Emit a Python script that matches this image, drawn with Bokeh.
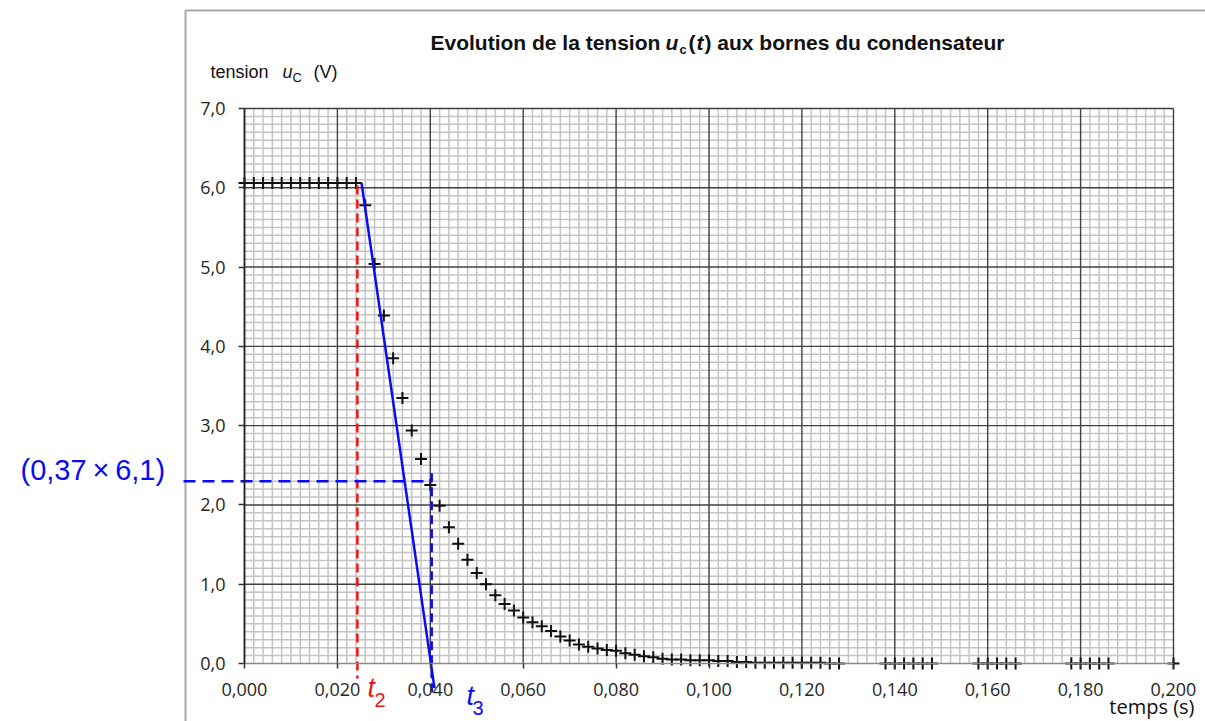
from bokeh.plotting import figure
from bokeh.models import (SingleIntervalTicker, CustomJSTickFormatter, Label,
                          LinearAxis, Range1d, ColumnDataSource)
from bokeh.embed import file_html
from bokeh.resources import INLINE

# ---------------- data ----------------
t_flat = [0.000, 0.002, 0.004, 0.006, 0.008, 0.010, 0.012, 0.014, 0.016, 0.018,
          0.020, 0.022, 0.024]
u_flat = [6.06, 6.06, 6.06, 6.06, 6.06, 6.06, 6.06, 6.06, 6.06, 6.06,
          6.06, 6.06, 6.06]

t_decay = [0.026, 0.028, 0.030, 0.032, 0.034, 0.036, 0.038, 0.040, 0.042, 0.044,
           0.046, 0.048, 0.050, 0.052, 0.054, 0.056, 0.058, 0.060, 0.062, 0.064,
           0.066, 0.068, 0.070, 0.072, 0.074, 0.076, 0.078, 0.080, 0.082, 0.084,
           0.086, 0.088, 0.090, 0.092, 0.094, 0.096, 0.098, 0.100, 0.102, 0.104,
           0.106, 0.108, 0.110, 0.112, 0.114, 0.116, 0.118, 0.120, 0.122, 0.124,
           0.126, 0.128]
u_decay = [5.78, 5.04, 4.39, 3.85, 3.35, 2.94, 2.58, 2.25, 1.99, 1.72,
           1.51, 1.31, 1.14, 1.00, 0.86, 0.75, 0.67, 0.58, 0.52, 0.47,
           0.41, 0.34, 0.29, 0.24, 0.21, 0.19, 0.17, 0.16, 0.13, 0.11,
           0.09, 0.08, 0.06, 0.05, 0.05, 0.04, 0.04, 0.04, 0.03, 0.03,
           0.02, 0.02, 0.01, 0.01, 0.01, 0.01, 0.01, 0.01, 0.01, 0.01,
           0.00, 0.00]

t_tail = [0.138, 0.140, 0.142, 0.144, 0.146, 0.148,
          0.158, 0.160, 0.162, 0.164, 0.166,
          0.178, 0.180, 0.182, 0.184, 0.186,
          0.200]
u_tail = [0.0, 0.0, 0.0, 0.0, 0.0, 0.0,
          0.0, 0.0, 0.0, 0.0, 0.0,
          0.0, 0.0, 0.0, 0.0, 0.0,
          0.0]

# construction lines
tangent_t = [0.0252, 0.0409]
tangent_u = [6.06, -0.31]
t2_t = [0.0243, 0.0243]
t2_u = [6.03, -0.19]
t3_t = [0.0403, 0.0403]
t3_u = [2.40, -0.40]
u_tau = 2.30  # 0,37 x 6,1

T_MAX, U_MAX = 0.2, 7.0
x_major, y_major = 0.02, 1.0
x_minor, y_minor = 0.002, 0.1

# ---------------- layout helpers (screen pixel -> data) ----------------
FX0, FX1 = 244, 1173   # pixels of t = 0 and t = 0.200
FY0, FY1 = 663, 108    # pixels of u = 0 and u = 7.0
W, H = 1205, 721


def X(px):
    return (px - FX0) / (FX1 - FX0) * T_MAX


def Y(py):
    return (FY0 - py) / (FY0 - FY1) * U_MAX


p = figure(width=W, height=H, min_border=0,
           x_range=Range1d(X(0), X(W)), y_range=Range1d(Y(H), Y(0)),
           x_axis_type=None, y_axis_type=None,
           output_backend="svg", toolbar_location=None)
p.background_fill_color = "white"
p.border_fill_color = "white"
p.outline_line_color = None

# ---------------- grid (minor then major) ----------------
nx = int(round(T_MAX / x_minor))
ny = int(round(U_MAX / y_minor))
gx = [i * x_minor for i in range(nx + 1)]
gy = [j * y_minor for j in range(ny + 1)]
minx = [v for i, v in enumerate(gx) if i % 10]
majx = [v for i, v in enumerate(gx) if i % 10 == 0]
miny = [v for j, v in enumerate(gy) if j % 10]
majy = [v for j, v in enumerate(gy) if j % 10 == 0]

p.segment(x0=minx, y0=[0] * len(minx), x1=minx, y1=[U_MAX] * len(minx),
          line_color="#c4c4c4", line_width=1.5)
p.segment(x0=[0] * len(miny), y0=miny, x1=[T_MAX] * len(miny), y1=miny,
          line_color="#c4c4c4", line_width=1.5)
p.segment(x0=majx, y0=[0] * len(majx), x1=majx, y1=[U_MAX] * len(majx),
          line_color="#404040", line_width=1.4)
p.segment(x0=[0] * len(majy[1:]), y0=majy[1:], x1=[T_MAX] * len(majy[1:]), y1=majy[1:],
          line_color="#404040", line_width=1.4)

# ---------------- axes (fixed at t = 0 and u = 0) ----------------
xt = SingleIntervalTicker(interval=x_major, num_minor_ticks=0)
yt = SingleIntervalTicker(interval=y_major, num_minor_ticks=0)
xaxis = LinearAxis(fixed_location=0, bounds=(0, T_MAX + 1e-6), ticker=xt,
                   formatter=CustomJSTickFormatter(code="return tick.toFixed(3).replace('.', ',');"))
yaxis = LinearAxis(fixed_location=0, bounds=(0, U_MAX), ticker=yt,
                   formatter=CustomJSTickFormatter(code="return tick.toFixed(1).replace('.', ',');"))
for ax in (xaxis, yaxis):
    ax.minor_tick_line_color = None
    ax.major_tick_in = 0
    ax.major_label_text_font = "Open Sans"
    ax.major_label_text_font_size = "18px"
    ax.major_label_text_color = "#262626"
    ax.major_tick_line_color = "#333333"
    ax.major_tick_line_width = 1.5
xaxis.major_tick_out = 5
xaxis.major_label_standoff = 14
xaxis.axis_line_color = "#8a8a8a"
xaxis.axis_line_width = 1.5
yaxis.major_tick_out = 6
yaxis.major_label_standoff = 13
yaxis.axis_line_color = "#1e1e1e"
yaxis.axis_line_width = 1.6
p.add_layout(xaxis, "below")
p.add_layout(yaxis, "left")

# outer chart frame (light gray)
p.line([X(185), X(185), X(W + 10)], [Y(H + 10), Y(10), Y(10)],
       line_color="#a8a8a8", line_width=2)

# ---------------- data marks ----------------
src = ColumnDataSource(dict(t=t_flat + t_decay + t_tail, u=u_flat + u_decay + u_tail))
p.scatter("t", "u", source=src, marker="cross", size=12, line_width=2,
          line_color="#111111")

# ---------------- construction lines ----------------
blue = "#0a0af5"
red = "#f01414"
p.line(t2_t, t2_u, line_color=red, line_width=2.5, line_dash="9 5")
p.line(t3_t, t3_u, line_color=blue, line_width=2.5, line_dash="9 5")
p.line([X(183), t3_t[0]], [u_tau, u_tau], line_color=blue, line_width=2.5,
       line_dash="12 7")
p.line(tangent_t, tangent_u, line_color=blue, line_width=2.5)


# ---------------- texts ----------------
def lab(px, py, text, font, size, style="normal", color="#111111", align="left"):
    # py is the wanted baseline (screen px); compensate the renderer's baseline offset
    p.add_layout(Label(x=X(px), y=Y(py - 0.36 * size), text=text, text_font=font,
                       text_font_size=f"{size}px", text_font_style=style,
                       text_color=color, text_align=align,
                       text_baseline="alphabetic"))


TF = "Liberation Sans"
lab(430, 50, "Evolution de la tension ", TF, 21, "bold")
lab(665, 50, "u", TF, 21, "bold italic")
lab(679, 54, "c", TF, 13, "bold")
lab(688, 50, "(", TF, 21, "bold")
lab(696, 50, "t", TF, 21, "bold italic")
lab(704, 50, ") aux bornes du condensateur", TF, 21, "bold")

lab(210, 78, "tension", TF, 18)
lab(282, 78, "u", TF, 18, "italic")
lab(292, 82, "C", TF, 13)
lab(313, 78, "(V)", TF, 18)

lab(1194, 713, "temps (s)", "Open Sans", 20, align="right")

lab(20, 480, "(0,37\u2009\u00d7\u20096,1)", "Liberation Sans", 29, color=blue)
lab(367, 697, "t", "Liberation Sans", 27, "italic", color=red)
lab(374, 707, "2", "Liberation Sans", 20, color=red)
lab(466, 705, "t", "Liberation Sans", 27, "italic", color=blue)
lab(472, 715, "3", "Liberation Sans", 20, color=blue)

open("out.html", "w").write(file_html(p, INLINE))
